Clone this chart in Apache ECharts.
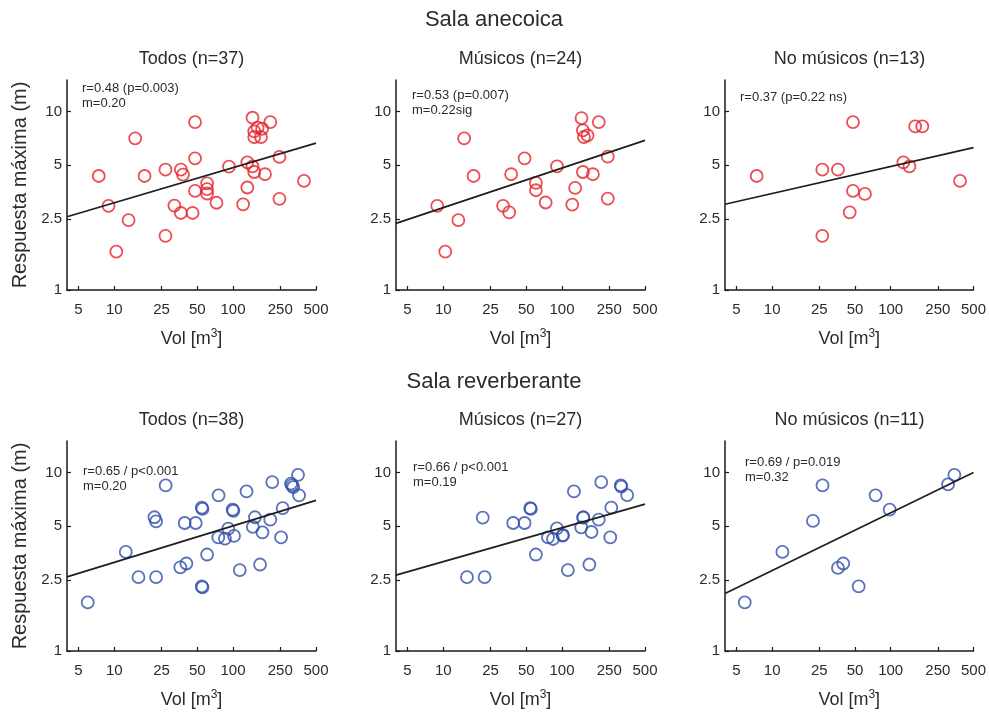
<!DOCTYPE html>
<html>
<head>
<meta charset="utf-8">
<script src="https://cdn.jsdelivr.net/npm/echarts@6/dist/echarts.min.js"></script>
<style>html,body{margin:0;padding:0;background:#fff}#c{width:989px;height:719px}</style>
</head>
<body>
<div id="c"></div>
<script>
// ---- tick labels ----
const xTicks = [5, 10, 25, 50, 100, 250, 500];
const yTicks = [1, 2.5, 5, 10];
const xRange = [4, 500];
const yRange = [1, 15];

// ---- titles ----
const rowTitles = ['Sala anecoica', 'Sala reverberante'];
const panelTitles = [
  ['Todos (n=37)', 'Músicos (n=24)', 'No músicos (n=13)'],
  ['Todos (n=38)', 'Músicos (n=27)', 'No músicos (n=11)']
];
const statTexts = [
  [['r=0.48 (p=0.003)', 'm=0.20'], ['r=0.53 (p=0.007)', 'm=0.22sig'], ['r=0.37 (p=0.22 ns)']],
  [['r=0.65 / p<0.001', 'm=0.20'], ['r=0.66 / p<0.001', 'm=0.19'], ['r=0.69 / p=0.019', 'm=0.32']]
];

// ---- Sala anecoica: Todos ----
const anTodosVol = [7.4, 8.95, 10.4, 13.2, 15.0, 18.0, 27.0, 27.0, 32.1, 36.4, 36.4, 37.9, 45.7, 47.9, 47.9, 47.9, 60.5, 60.5, 60.5, 72.6, 92.5, 121.6, 132, 132, 146, 151, 151, 161, 172, 176, 151, 146, 186, 206, 246, 246, 396];
const anTodosResp = [4.35, 2.96, 1.64, 2.46, 7.07, 4.35, 4.72, 2.01, 2.97, 2.70, 4.72, 4.43, 2.70, 8.72, 5.46, 3.59, 3.96, 3.67, 3.47, 3.08, 4.91, 3.02, 3.75, 5.19, 9.22, 7.73, 7.19, 8.11, 7.19, 8.0, 4.58, 4.93, 4.45, 8.72, 5.56, 3.24, 4.08];
// ---- Sala anecoica: Músicos ----
const anMusVol = [8.9, 10.4, 13.4, 15.0, 18.0, 31.9, 35.9, 37.3, 48.4, 60.3, 60.3, 72.8, 90.7, 122, 129, 146, 150, 153, 164, 150, 182, 204, 243, 243];
const anMusResp = [2.96, 1.64, 2.46, 7.07, 4.35, 2.96, 2.72, 4.45, 5.46, 3.98, 3.62, 3.09, 4.93, 3.01, 3.73, 9.18, 7.83, 7.19, 7.34, 4.58, 4.45, 8.72, 5.58, 3.25];
// ---- Sala anecoica: No músicos ----
const anNoVol = [7.4, 26.5, 26.5, 35.9, 45.1, 48.1, 48.1, 60.7, 128, 144, 161, 185, 385];
const anNoResp = [4.35, 4.72, 2.01, 4.72, 2.72, 8.72, 3.59, 3.45, 5.19, 4.93, 8.24, 8.24, 4.08];

// ---- Sala reverberante: Todos ----
const revTodosVol = [5.98, 12.5, 16.0, 21.8, 22.5, 22.5, 27.1, 36.0, 40.5, 39.2, 48.5, 54.6, 55.3, 54.6, 55.3, 60.5, 75.6, 75.2, 85.5, 91.3, 99.3, 100.7, 102, 114, 130, 147, 153, 169, 177, 206, 214, 254, 262, 308, 314, 322, 353, 360];
const revTodosResp = [1.87, 3.59, 2.59, 5.61, 5.32, 2.59, 8.46, 2.94, 3.09, 5.21, 5.21, 6.35, 6.25, 2.30, 2.27, 3.47, 7.44, 4.33, 4.26, 4.84, 6.19, 6.10, 4.41, 2.84, 7.83, 4.95, 5.61, 3.05, 4.62, 5.44, 8.83, 4.33, 6.32, 8.65, 8.46, 8.28, 9.70, 7.44];
// ---- Sala reverberante: Músicos ----
const revMusVol = [15.85, 21.5, 22.3, 38.8, 48.4, 54.0, 54.6, 60.3, 76.2, 84.0, 90.7, 101, 102, 112, 126, 145, 151, 151, 170, 177, 204, 214, 255, 260, 316, 313, 354];
const revMusResp = [2.59, 5.58, 2.59, 5.21, 5.21, 6.32, 6.25, 3.47, 4.33, 4.24, 4.86, 4.43, 4.45, 2.84, 7.83, 4.93, 5.61, 5.58, 3.05, 4.64, 5.44, 8.83, 4.33, 6.35, 8.32, 8.46, 7.47];
// ---- Sala reverberante: No músicos ----
const revNoVol = [5.87, 12.2, 22.1, 26.6, 35.9, 39.8, 53.7, 74.6, 98.1, 305, 345];
const revNoResp = [1.87, 3.59, 5.35, 8.46, 2.92, 3.09, 2.30, 7.44, 6.19, 8.57, 9.70];

// ---- regression lines (values at the ends of the volume range) ----
const fitVol = [4, 500];
const anTodosFit = [2.57, 6.65];
const anMusFit = [2.36, 6.89];
const anNoFit = [3.02, 6.27];
const revTodosFit = [2.60, 6.98];
const revMusFit = [2.66, 6.65];
const revNoFit = [2.10, 10.0];

const panels = [
  [[anTodosVol, anTodosResp, anTodosFit], [anMusVol, anMusResp, anMusFit], [anNoVol, anNoResp, anNoFit]],
  [[revTodosVol, revTodosResp, revTodosFit], [revMusVol, revMusResp, revMusFit], [revNoVol, revNoResp, revNoFit]]
];
const rowColors = ['#e6232a', '#2f4fa8'];

const FONT = 'Liberation Sans, Arial, Helvetica, sans-serif';
const TXT = '#2b2b2b';
const colLeft = [67, 396, 725];
const gridW = 249;
const rowTop = [80, 441];
const gridH = 210;
const rowTitleY = [20, 382];
// stat text offsets from grid top-left
const statDx = [[15, 16, 15], [16, 17, 20]];
const statDy = [[8, 15, 17], [30, 26, 21]];

const grid = [], xAxis = [], yAxis = [], series = [], graphic = [];
let gi = 0;
for (let r = 0; r < 2; r++) {
  graphic.push({type: 'text', x: 494, y: rowTitleY[r], style: {text: rowTitles[r], font: '22px ' + FONT, fill: TXT, align: 'center', verticalAlign: 'middle', textAlign: 'center', textVerticalAlign: 'middle'}});
  for (let c = 0; c < 3; c++) {
    const left = colLeft[c], top = rowTop[r];
    grid.push({left: left, top: top, width: gridW, height: gridH, containLabel: false});
    xAxis.push({
      type: 'log', gridIndex: gi, min: xRange[0], max: xRange[1],
      name: 'Vol [m{s|3}]', nameLocation: 'middle', nameGap: 38,
      nameTextStyle: {fontSize: 18, fontFamily: FONT, color: TXT, rich: {s: {fontSize: 12, fontFamily: FONT, color: TXT, verticalAlign: 'bottom', padding: [0, 0, 10, 0]}}},
      axisLine: {show: true, lineStyle: {color: '#1a1a1a', width: 1.5}},
      axisTick: {show: true, inside: true, length: 4, customValues: xTicks, lineStyle: {color: '#1a1a1a', width: 1.2}},
      axisLabel: {show: true, customValues: xTicks, margin: 12, fontSize: 15, fontFamily: FONT, color: TXT, formatter: v => String(v)},
      splitLine: {show: false}, minorTick: {show: false}
    });
    yAxis.push({
      type: 'log', gridIndex: gi, min: yRange[0], max: yRange[1],
      name: c === 0 ? 'Respuesta máxima (m)' : '', nameLocation: 'middle', nameGap: 37,
      nameTextStyle: {fontSize: 20, fontFamily: FONT, color: TXT},
      axisLine: {show: true, lineStyle: {color: '#1a1a1a', width: 1.5}},
      axisTick: {show: true, inside: true, length: 4, customValues: yTicks, lineStyle: {color: '#1a1a1a', width: 1.2}},
      axisLabel: {show: true, customValues: yTicks, margin: 5, fontSize: 15, fontFamily: FONT, color: TXT, formatter: v => String(v)},
      splitLine: {show: false}, minorTick: {show: false}
    });
    const [vx, vy, fit] = panels[r][c];
    series.push({
      type: 'line', xAxisIndex: gi, yAxisIndex: gi,
      data: fitVol.map((v, i) => [v, fit[i]]),
      showSymbol: false, symbol: 'none',
      lineStyle: {color: '#1e1e1e', width: 1.7},
      silent: true
    });
    series.push({
      type: 'scatter', xAxisIndex: gi, yAxisIndex: gi,
      data: vx.map((v, i) => [v, vy[i]]),
      symbol: 'circle', symbolSize: 12,
      itemStyle: {color: 'rgba(0,0,0,0)', borderColor: rowColors[r], borderWidth: 1.8},
      emphasis: {disabled: true}, silent: true
    });
    graphic.push({type: 'text', x: left + gridW / 2, y: top - 21, style: {text: panelTitles[r][c], font: '18px ' + FONT, fill: TXT, align: 'center', verticalAlign: 'middle', textAlign: 'center', textVerticalAlign: 'middle'}});
    statTexts[r][c].forEach((t, k) => {
      graphic.push({type: 'text', x: left + statDx[r][c], y: top + statDy[r][c] + k * 15, style: {text: t, font: '13px ' + FONT, fill: TXT, align: 'left', verticalAlign: 'middle', textAlign: 'left', textVerticalAlign: 'middle'}});
    });
    gi++;
  }
}

const chart = echarts.init(document.getElementById('c'), null, {renderer: 'canvas'});
chart.setOption({
  backgroundColor: '#ffffff',
  animation: false,
  grid: grid, xAxis: xAxis, yAxis: yAxis, series: series, graphic: graphic
});
</script>
</body>
</html>
